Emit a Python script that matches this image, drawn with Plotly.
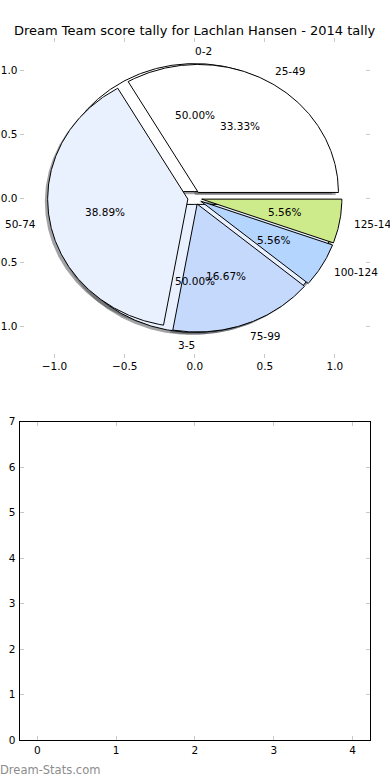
import numpy as np
import plotly.graph_objects as go

# ---------------- data ----------------
title_text = "Dream Team score tally for Lachlan Hansen - 2014 tally"
inner_labels = ["0-2", "3-5"]
inner_values = [1, 1]                       # 50.00% / 50.00%
outer_labels = ["25-49", "50-74", "75-99", "100-124", "125-149"]
outer_values = [6, 7, 3, 1, 1]              # 33.33 / 38.89 / 16.67 / 5.56 / 5.56 %
wedge_colors = ["#FFFFFF", "#EAF1FE", "#C5D9FC", "#B4D5FD", "#CEEB8B"]

pie_ticks = [-1.0, -0.5, 0.0, 0.5, 1.0]
pie_ticktext = ["\u22121.0", "\u22120.5", "0.0", "0.5", "1.0"]
bottom_xticks = [0, 1, 2, 3, 4]
bottom_yticks = [0, 1, 2, 3, 4, 5, 6, 7]
watermark = "Dream-Stats.com"

EXPLODE = 0.05
PCT_DIST = 0.6
LABEL_DIST = 1.1
SHADOW = -0.02
FONT = "DejaVu Sans"

fig = go.Figure()


def wedge_geometry(values):
    vals = np.asarray(values, float)
    frac = vals / vals.sum()
    edges = np.concatenate([[0], np.cumsum(frac)]) * 360.0
    out = []
    for i in range(len(vals)):
        t1, t2 = edges[i], edges[i + 1]
        tm = np.radians((t1 + t2) / 2)
        cx, cy = EXPLODE * np.cos(tm), EXPLODE * np.sin(tm)
        th = np.radians(np.linspace(t1, t2, max(int(t2 - t1) * 2, 4)))
        xs = np.concatenate([[cx], cx + np.cos(th), [cx]])
        ys = np.concatenate([[cy], cy + np.sin(th), [cy]])
        out.append(dict(xs=xs, ys=ys, cx=cx, cy=cy, tm=tm, frac=frac[i]))
    return out


pies = [(inner_labels, wedge_geometry(inner_values)),
        (outer_labels, wedge_geometry(outer_values))]


def hex_to_rgb(h):
    h = h.lstrip("#")
    return tuple(int(h[i:i + 2], 16) for i in (0, 2, 4))


# shadows (drawn below all wedges)
for labels, geo in pies:
    for i, g in enumerate(geo):
        r, gg, b = hex_to_rgb(wedge_colors[i % len(wedge_colors)])
        fig.add_trace(go.Scatter(
            x=g["xs"] + SHADOW, y=g["ys"] + SHADOW, mode="lines", fill="toself",
            fillcolor=f"rgba({int(r*0.3)},{int(gg*0.3)},{int(b*0.3)},0.5)",
            line=dict(width=0), hoverinfo="skip", xaxis="x", yaxis="y"))

# wedges
for labels, geo in pies:
    for i, g in enumerate(geo):
        fig.add_trace(go.Scatter(
            x=g["xs"], y=g["ys"], mode="lines", fill="toself",
            fillcolor=wedge_colors[i % len(wedge_colors)],
            line=dict(color="black", width=1), hoverinfo="skip",
            xaxis="x", yaxis="y"))

annotations = []
for labels, geo in pies:
    for i, g in enumerate(geo):
        c, s = np.cos(g["tm"]), np.sin(g["tm"])
        lx, ly = g["cx"] + LABEL_DIST * c, g["cy"] + LABEL_DIST * s
        annotations.append(dict(
            x=lx, y=ly, xref="x", yref="y", text=labels[i], showarrow=False,
            xanchor="left" if lx > 0 else "right", yanchor="middle",
            borderpad=0, borderwidth=0,
            font=dict(family=FONT, size=10.5, color="black")))
        px, py = g["cx"] + PCT_DIST * c, g["cy"] + PCT_DIST * s
        annotations.append(dict(
            x=px, y=py, xref="x", yref="y", text=f"{g['frac']*100:.2f}%",
            showarrow=False, xanchor="center", yanchor="middle",
            borderpad=0, borderwidth=0,
            font=dict(family=FONT, size=10.5, color="black")))

annotations.append(dict(
    x=0.5, y=1 - 31 / 780, xref="paper", yref="paper", text=title_text,
    showarrow=False, xanchor="center", yanchor="middle",
    font=dict(family=FONT, size=13, color="black")))
annotations.append(dict(
    x=0.0, y=1 - 770 / 780, xref="paper", yref="paper", text=watermark,
    showarrow=False, xanchor="left", yanchor="middle", borderpad=0, borderwidth=0,
    font=dict(family=FONT, size=11.5, color="#8c8c8c")))

# dummy invisible trace so the second axes are drawn
fig.add_trace(go.Scatter(x=[], y=[], xaxis="x2", yaxis="y2", hoverinfo="skip"))

tickfont = dict(family=FONT, size=10.5, color="black")
xdom = [19.5 / 390, 370 / 390]
common = dict(automargin=False, showgrid=False, zeroline=False,
              tickfont=tickfont, fixedrange=True, ticks="inside", ticklen=4,
              tickcolor="#c8c8c8", tickwidth=1, mirror="ticks")

fig.update_layout(
    template="none",
    width=390, height=780, showlegend=False, autosize=False,
    margin=dict(l=0, r=0, t=0, b=0, pad=0),
    paper_bgcolor="white", plot_bgcolor="white",
    annotations=annotations,
    xaxis=dict(domain=xdom, range=[-1.25, 1.25], anchor="y",
               tickvals=pie_ticks, ticktext=pie_ticktext,
               showline=False, **common),
    yaxis=dict(domain=[1 - 358 / 780, 1 - 38 / 780], range=[-1.25, 1.25], anchor="x",
               tickvals=pie_ticks, ticktext=pie_ticktext, ticklabelstandoff=1,
               showline=False, **common),
    xaxis2=dict(domain=xdom, range=[-0.225, 4.22], anchor="y2",
                tickvals=bottom_xticks, showline=True, linecolor="black",
                linewidth=1, **common),
    yaxis2=dict(domain=[1 - 740.3 / 780, 1 - 421.7 / 780], range=[0, 7], anchor="x2",
                tickvals=bottom_yticks, ticklabelstandoff=1, showline=True,
                linecolor="black", linewidth=1, **common),
)

fig.write_html("out.html", config={"displayModeBar": False},
               post_script="document.body.style.margin='0px';document.body.style.overflow='hidden';")
